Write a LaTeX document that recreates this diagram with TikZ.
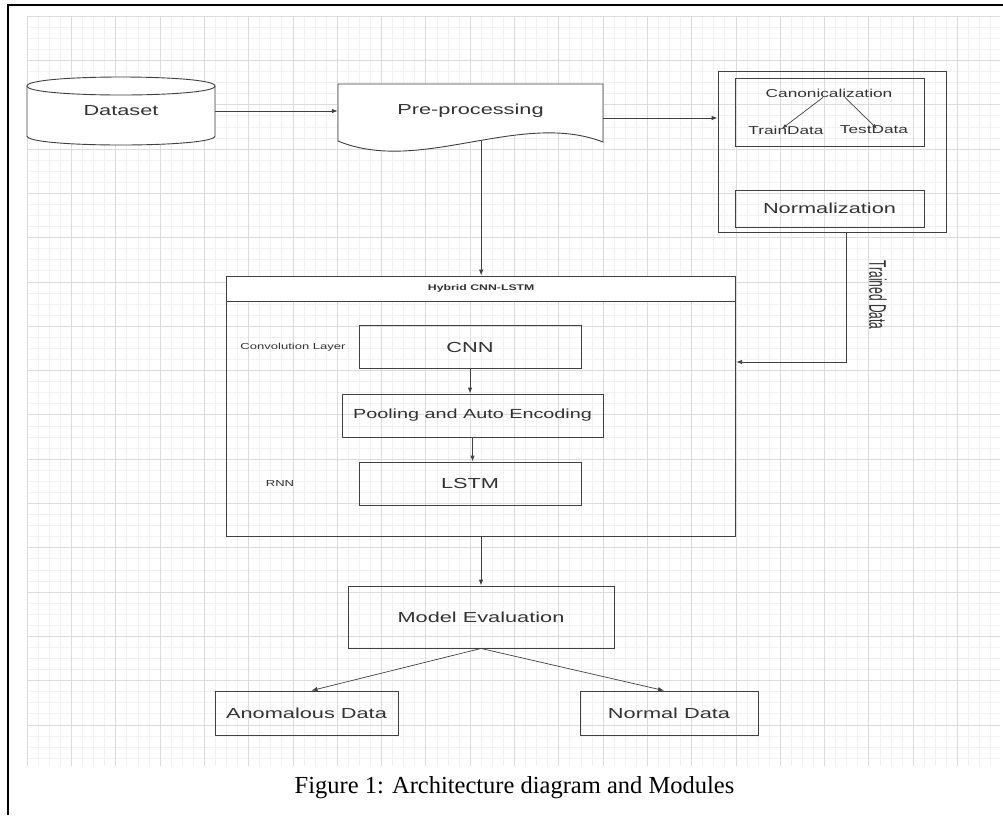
\documentclass[tikz,border=0pt]{standalone}
\usepackage{fontspec}
\setmainfont{Liberation Serif}
\setsansfont{Liberation Sans}
\usepackage{graphicx}
\usepackage{tikz}
\usetikzlibrary{positioning,calc,arrows.meta}
\definecolor{ink}{HTML}{333333}
\definecolor{edge}{HTML}{404040}
\definecolor{gridi}{HTML}{F1F1F1}
\definecolor{gridii}{HTML}{DCDCDC}
\newcommand\wide[1]{\scalebox{1.5}[1]{#1}}
\tikzset{
  box/.style      = {draw=edge, line width=0.9pt, inner sep=0pt},
  boxhead/.style  = {draw=edge, fill=white, line width=0.9pt, inner sep=0pt},
  lab/.style      = {font=\fontsize{14.5}{17}\selectfont\sffamily\color{ink}, inner sep=0pt},
  labsm/.style    = {font=\fontsize{11.5}{13}\selectfont\sffamily\color{ink}, inner sep=0pt},
  labtiny/.style  = {font=\fontsize{8.7}{10}\selectfont\sffamily\color{ink}, inner sep=0pt},
  flow/.style     = {-{Latex[length=6pt,width=4.5pt]}, draw=edge, line width=0.9pt},
  flowsm/.style   = {-{Latex[length=5pt,width=3.5pt]}, draw=edge, line width=0.7pt},
  gridminor/.style= {draw=gridi, line width=0.5pt},
  gridmajor/.style= {draw=gridii, line width=0.6pt},
}

\begin{document}
\begin{tikzpicture}[x=1pt,y=-1pt]
\fill[white] (0,0) rectangle (1003,815);
\useasboundingbox (0,0) rectangle (1003,815);

% ---- grid paper ---------------------------------------------------------
\begin{scope}
\clip (27,16) rectangle (1000,766);
\foreach \i in {0,...,88}{ \draw[gridminor] (27+\i*11.075,16) -- (27+\i*11.075,766); }
\foreach \j in {0,...,68}{ \draw[gridminor] (27,16+\j*11.075) -- (1000,16+\j*11.075); }
\foreach \i in {0,...,22}{ \draw[gridmajor] (27+\i*44.3,16) -- (27+\i*44.3,766); }
\foreach \j in {0,...,17}{ \draw[gridmajor] (27,16+\j*44.3) -- (1000,16+\j*44.3); }
\end{scope}

% page frame
\draw[black, line width=1.6pt] (8,815) -- (8,5) -- (1003,5);

% ---- dataset and pre-processing ----------------------------------------
\draw[edge, line width=0.9pt, fill=white] (27,86) -- (27,136)
  .. controls (27,148) and (215,148) .. (215,136) -- (215,86)
  .. controls (215,74) and (27,74) .. cycle;
\draw[edge, line width=0.9pt] (27,86) .. controls (27,98) and (215,98) .. (215,86);
\node[lab, minimum width=188pt, minimum height=68pt] (data) at (121,111) {\wide{Dataset}};

\draw[edge, line width=0.9pt, fill=white] (338,84) -- (603,84) -- (603,142)
  .. controls (520,110) and (420,175) .. (338,141) -- cycle;
\node[lab, minimum width=265pt, minimum height=57pt] (pre) at (470.5,112.5) {\raisebox{6pt}{\wide{Pre-processing}}};

\draw[flow] (data.east) -- (data.east -| pre.west);

% ---- preparation block --------------------------------------------------
\node[box, minimum width=228pt, minimum height=161pt] (prep) at (832,151.5) {};
\node[box, minimum width=189pt, minimum height=68pt] (canonbox) at (829.5,112) {};
\node[labsm] (canon) at (829,93) {\wide{Canonicalization}};
\node[labsm] (train) at (786,130) {\wide{TrainData}};
\node[labsm] (test)  at (874,130) {\wide{TestData}};
\draw[flowsm] ([xshift=-6pt]canon.south) -- ([xshift=-4pt,yshift=-3pt]train.north);
\draw[flowsm] ([xshift=16pt]canon.south) -- ([xshift=3pt,yshift=-3pt]test.north);
\node[box, lab, minimum width=189pt, minimum height=37pt] (norm) at (829.5,208.5) {\wide{Normalization}};

\draw[flow] ([yshift=-5.5pt]pre.east) -- ([yshift=-5.5pt]pre.east -| prep.west);

% ---- hybrid CNN-LSTM ----------------------------------------------------
\node[box, minimum width=509pt, minimum height=260pt] (hyb) at (481.2,406) {};
\node[boxhead, minimum width=509pt, minimum height=25pt,
      font=\fontsize{8.2}{10}\selectfont\sffamily\bfseries\color{ink}] (hybhead) at (481.2,288.5) {\wide{Hybrid CNN-LSTM}};

\node[labtiny] (convlab) at (293,347) {\wide{Convolution Layer}};
\node[labtiny] (rnnlab)  at (280,483) {\wide{RNN}};

\node[box, lab, minimum width=222pt, minimum height=43pt] (cnn)  at (470,347.3)   {\wide{CNN}};
\node[box, lab, minimum width=261pt, minimum height=43pt,
      font=\fontsize{13.2}{15}\selectfont\sffamily\color{ink}] (pool) at (472.5,415.5) {\wide{Pooling and Auto Encoding}};
\node[box, lab, minimum width=222pt, minimum height=43pt] (lstm) at (470,483.5)   {\wide{LSTM}};

\draw[flow] (cnn.south) -- (cnn.south |- pool.north);
\draw[flow] (pool.south) -- (pool.south |- lstm.north);

\draw[flow] (pre.south -| hybhead.north) -- (hybhead.north);

% trained data back into the hybrid model
\coordinate (bend) at (846.7,362);
\draw[flow] ([xshift=14.7pt]prep.south) -- (bend) -- (bend -| hyb.east);
\node[rotate=-90, inner sep=0pt, font=\fontsize{12}{14}\selectfont\sffamily\color{ink}] (trained) at (878,295)
  {\scalebox{1}[2]{Trained Data}};

% ---- evaluation ---------------------------------------------------------
\node[box, lab, minimum width=266pt, minimum height=62pt] (eval) at (481,617) {\wide{Model Evaluation}};
\draw[flow] (hyb.south) -- (hyb.south -| eval.north) -- (eval.north);

\node[box, lab, minimum width=183pt, minimum height=44pt] (anom)   at (306.5,713) {\wide{Anomalous Data}};
\node[box, lab, minimum width=178pt, minimum height=44pt] (normal) at (669,713)   {\wide{Normal Data}};
\draw[flow, line width=0.7pt] (eval.south) -- ([xshift=5pt]anom.north);
\draw[flow, line width=0.7pt] (eval.south) -- ([xshift=-5pt]normal.north);

% ---- caption ------------------------------------------------------------
\node[anchor=base, inner sep=0pt, font=\fontsize{24.5}{28}\selectfont\rmfamily] (caption) at (514.5,793)
  {Figure 1: Architecture diagram and Modules};

\end{tikzpicture}
\end{document}
